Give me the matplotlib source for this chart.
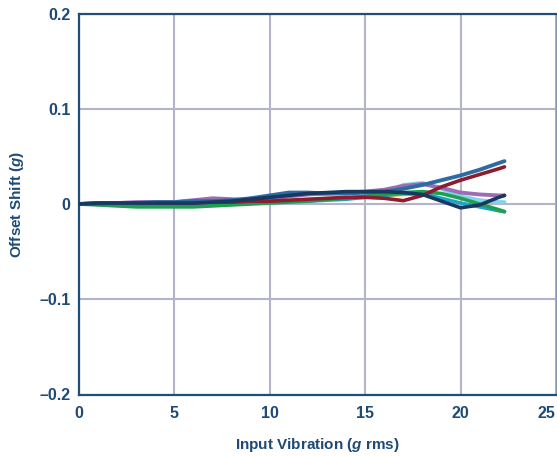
import matplotlib
matplotlib.use("Agg")
import matplotlib.pyplot as plt
from matplotlib.transforms import ScaledTranslation

plt.rcParams['font.family'] = ['Liberation Sans', 'DejaVu Sans']
plt.rcParams['mathtext.fontset'] = 'custom'
plt.rcParams['mathtext.it'] = 'Liberation Sans:bold:italic'
plt.rcParams['mathtext.rm'] = 'Liberation Sans:bold'

x = [0, 1, 2, 3, 4, 5, 6, 7, 8, 9, 10, 11, 12, 13, 14, 15, 16, 17, 18, 19, 20, 21, 22, 22.3]

light_cyan = [0, 0, 0, 0, 0, 0, 0, 0.001, 0.001, 0.001, 0.002, 0.003, 0.004, 0.005, 0.006, 0.008,
              0.012, 0.020, 0.022, 0.016, 0.008, 0.004, 0.002, 0.002]
orange = [0, 0, -0.001, -0.001, -0.001, -0.001, -0.001, 0, 0.001, 0.001, 0.002, 0.003, 0.003, 0.004,
          0.005, 0.007, 0.008, 0.009, 0.010, 0.006, 0.001, -0.003, -0.008, -0.009]
teal = [0, 0, -0.001, -0.001, -0.001, -0.001, -0.001, 0, 0.001, 0.001, 0.002, 0.003, 0.003, 0.004,
        0.005, 0.007, 0.009, 0.011, 0.011, 0.006, 0.001, -0.003, -0.007, -0.008]
green = [0, -0.001, -0.002, -0.003, -0.003, -0.003, -0.003, -0.002, -0.001, 0, 0.001, 0.002, 0.003,
         0.005, 0.006, 0.008, 0.010, 0.012, 0.013, 0.011, 0.006, 0.0, -0.006, -0.008]
purple = [0, 0.001, 0.001, 0.002, 0.002, 0.002, 0.004, 0.006, 0.005, 0.004, 0.005, 0.008, 0.010,
          0.011, 0.012, 0.013, 0.015, 0.019, 0.021, 0.017, 0.012, 0.010, 0.009, 0.009]
red = [0, 0.0005, 0.001, 0.001, 0.001, 0.001, 0.001, 0.002, 0.002, 0.003, 0.003, 0.004, 0.005, 0.006,
       0.007, 0.007, 0.006, 0.0035, 0.009, 0.018, 0.025, 0.031, 0.037, 0.039]
steel = [0, 0.001, 0.001, 0.001, 0.002, 0.002, 0.003, 0.003, 0.004, 0.006, 0.009, 0.012, 0.012,
         0.011, 0.011, 0.012, 0.013, 0.016, 0.020, 0.025, 0.030, 0.036, 0.043, 0.045]
navy = [0, 0.001, 0.001, 0.001, 0.001, 0.001, 0.001, 0.002, 0.003, 0.005, 0.007, 0.009, 0.011,
        0.012, 0.013, 0.013, 0.013, 0.012, 0.010, 0.003, -0.004, -0.001, 0.007, 0.009]

xticks = [0, 5, 10, 15, 20, 25]
yticks = [-0.2, -0.1, 0, 0.1, 0.2]
ytick_labels = ['\u20130.2', '\u20130.1', '0', '0.1', '0.2']

txt = '#1f4a75'
grid_c = '#b3b3c9'

fig = plt.figure(figsize=(5.57, 4.57), dpi=100)
ax = fig.add_axes([79/557, 62.5/457, 477/557, 381/457])

series = [
    (light_cyan, '#80d4ec', 2.8),
    (orange, '#f5a034', 1.2),
    (teal, '#1aa5c8', 2.6),
    (green, '#1e9f4d', 2.6),
    (purple, '#9c6db5', 2.8),
    (red, '#8c1c2e', 2.6),
    (steel, '#2d6ca2', 2.8),
    (navy, '#17385f', 2.6),
]
for ys, c, lw in series:
    ax.plot(x, ys, color=c, lw=lw, solid_capstyle='round', solid_joinstyle='round', zorder=3)

ax.set_xlim(0, 25)
ax.set_ylim(-0.2, 0.2)
ax.set_xticks(xticks)
ax.set_xticklabels([str(t) for t in xticks])
ax.set_yticks(yticks)
ax.set_yticklabels(ytick_labels)
ax.grid(True, color=grid_c, lw=1.5, zorder=1)
ax.set_axisbelow(True)
ax.tick_params(length=0, labelsize=11.5, labelcolor=txt)
ax.tick_params(axis='x', pad=8)
ax.tick_params(axis='y', pad=6)
for lab in ax.get_xticklabels() + ax.get_yticklabels():
    lab.set_fontweight('bold')
last = ax.get_xticklabels()[-1]
last.set_transform(last.get_transform() + ScaledTranslation(-10/100, 0, fig.dpi_scale_trans))

for s in ['left', 'bottom', 'top']:
    ax.spines[s].set_color('#1f4e79')
    ax.spines[s].set_linewidth(1.6)
ax.spines['right'].set_color('#7f9bb3')
ax.spines['right'].set_linewidth(1.0)

ax.set_xlabel(r'Input Vibration ($g$ rms)', fontsize=11, fontweight='bold', color=txt, labelpad=11)
ax.set_ylabel(r'Offset Shift ($g$)', fontsize=11, fontweight='bold', color=txt, labelpad=10)

fig.savefig('out.png', dpi=100)
